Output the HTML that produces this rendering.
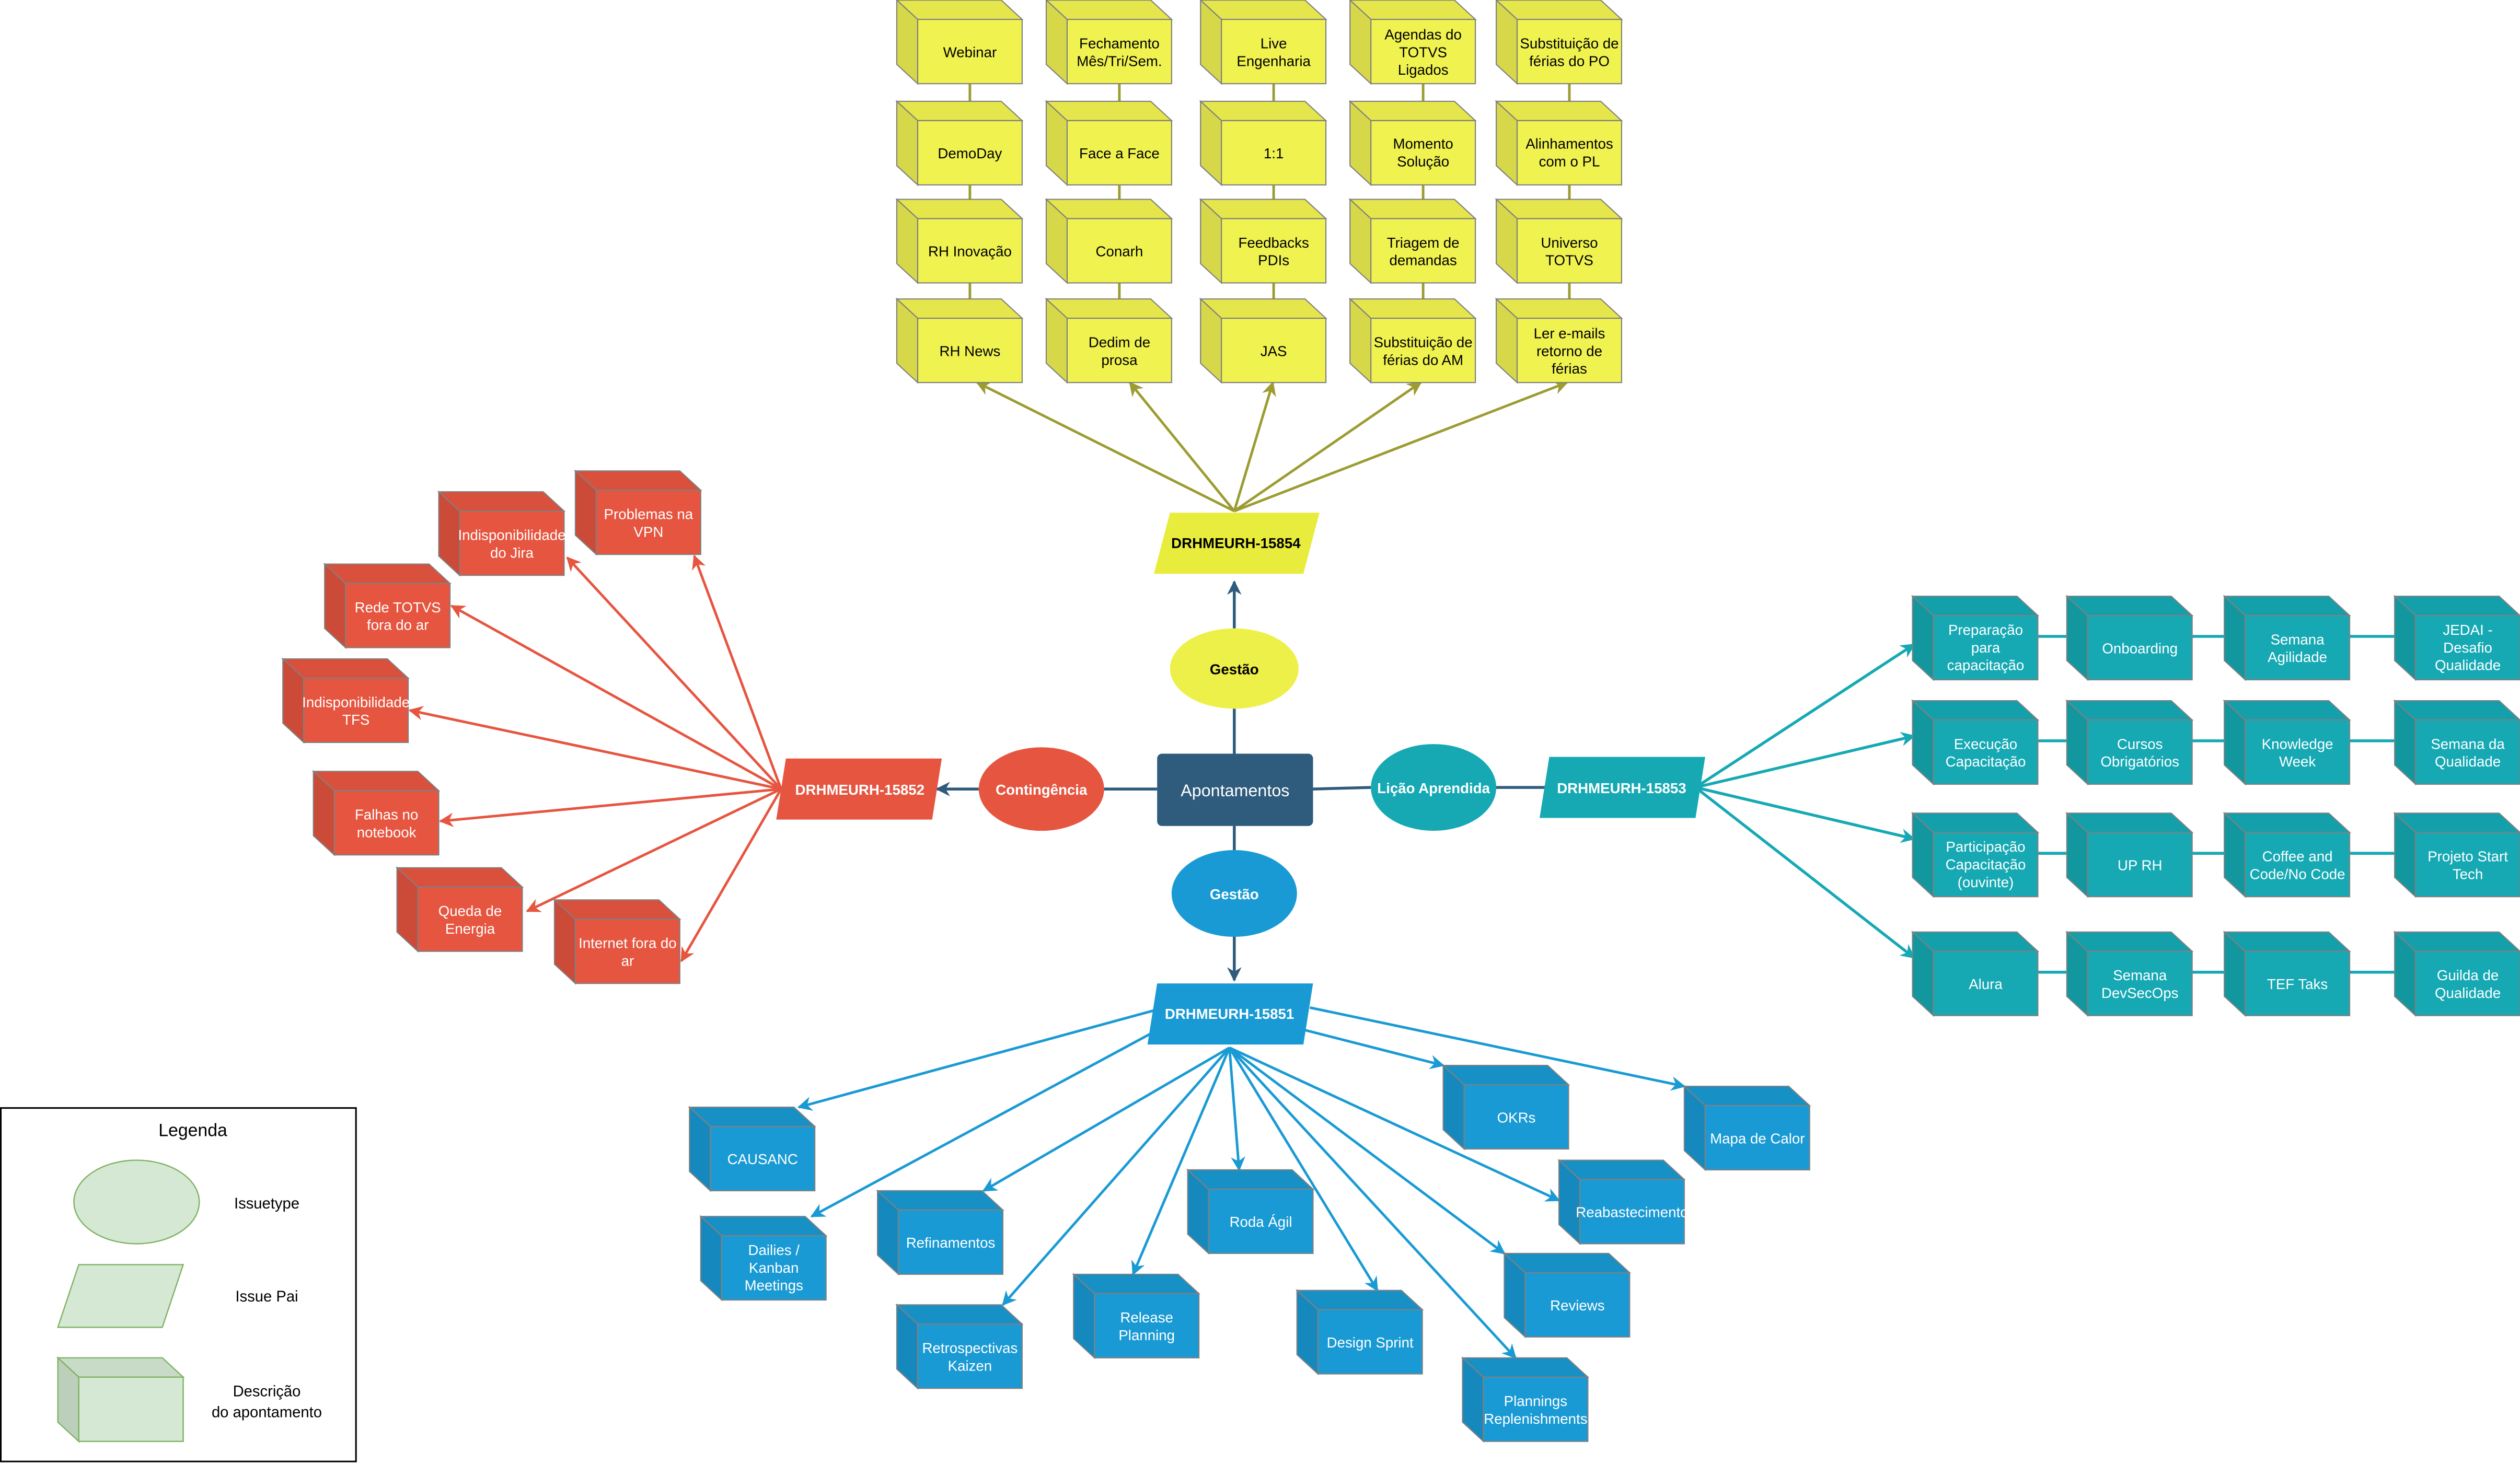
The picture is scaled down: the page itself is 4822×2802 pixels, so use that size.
<!DOCTYPE html>
<html><head><meta charset="utf-8"><style>
html,body{margin:0;padding:0;background:#fff;}
svg{display:block;}
text{font-family:"Liberation Sans",Arial,sans-serif;}
</style></head><body>
<svg width="4822" height="2802" viewBox="0 0 1568 911" xmlns="http://www.w3.org/2000/svg">
<defs>
<g id="cy" stroke="#808080" stroke-width="0.7"><polygon points="0,0 65,0 78,12 13,12" fill="#e5e64c"/><polygon points="0,0 13,12 13,52 0,40" fill="#d6d84a"/><rect x="13" y="12" width="65" height="40" fill="#f0f250"/></g>
<g id="cr" stroke="#808080" stroke-width="0.7"><polygon points="0,0 65,0 78,12 13,12" fill="#d9503c"/><polygon points="0,0 13,12 13,52 0,40" fill="#cc4a38"/><rect x="13" y="12" width="65" height="40" fill="#e65540"/></g>
<g id="ct" stroke="#808080" stroke-width="0.7"><polygon points="0,0 65,0 78,12 13,12" fill="#13a0aa"/><polygon points="0,0 13,12 13,52 0,40" fill="#12979f"/><rect x="13" y="12" width="65" height="40" fill="#16a9b4"/></g>
<g id="cb" stroke="#808080" stroke-width="0.7"><polygon points="0,0 65,0 78,12 13,12" fill="#1790c6"/><polygon points="0,0 13,12 13,52 0,40" fill="#1589bd"/><rect x="13" y="12" width="65" height="40" fill="#1a9ad4"/></g>
<marker id="ay" viewBox="0 0 10 10" refX="9" refY="5" markerWidth="9" markerHeight="9" markerUnits="userSpaceOnUse" orient="auto"><path d="M0,0 L10,5 L0,10 L3,5 Z" fill="#9c9c32"/></marker>
<marker id="ar" viewBox="0 0 10 10" refX="9" refY="5" markerWidth="9" markerHeight="9" markerUnits="userSpaceOnUse" orient="auto"><path d="M0,0 L10,5 L0,10 L3,5 Z" fill="#e65540"/></marker>
<marker id="at" viewBox="0 0 10 10" refX="9" refY="5" markerWidth="9" markerHeight="9" markerUnits="userSpaceOnUse" orient="auto"><path d="M0,0 L10,5 L0,10 L3,5 Z" fill="#16a9b4"/></marker>
<marker id="ab" viewBox="0 0 10 10" refX="9" refY="5" markerWidth="9" markerHeight="9" markerUnits="userSpaceOnUse" orient="auto"><path d="M0,0 L10,5 L0,10 L3,5 Z" fill="#1a9ad4"/></marker>
<marker id="ad" viewBox="0 0 10 10" refX="9" refY="5" markerWidth="9" markerHeight="9" markerUnits="userSpaceOnUse" orient="auto"><path d="M0,0 L10,5 L0,10 L3,5 Z" fill="#2f5b7c"/></marker>
</defs>

<!-- yellow vertical connectors -->
<g stroke="#9c9c32" stroke-width="1.6">
<line x1="603.5" y1="40" x2="603.5" y2="200"/><line x1="696.5" y1="40" x2="696.5" y2="200"/><line x1="792.5" y1="40" x2="792.5" y2="200"/><line x1="885.5" y1="40" x2="885.5" y2="200"/><line x1="976.5" y1="40" x2="976.5" y2="200"/>
</g>
<!-- teal horizontal connectors -->
<g stroke="#16a9b4" stroke-width="1.8">
<line x1="1220" y1="396" x2="1530" y2="396"/><line x1="1220" y1="461" x2="1530" y2="461"/><line x1="1220" y1="531" x2="1530" y2="531"/><line x1="1220" y1="605" x2="1530" y2="605"/>
</g>

<!-- center lines -->
<g stroke="#2f5b7c" stroke-width="1.8" fill="none">
<line x1="768" y1="469" x2="768" y2="441"/>
<line x1="768" y1="391" x2="768" y2="362" marker-end="url(#ad)"/>
<line x1="720" y1="491" x2="687" y2="491"/>
<line x1="609" y1="491" x2="583" y2="491" marker-end="url(#ad)"/>
<line x1="817" y1="491" x2="853" y2="490"/>
<line x1="931" y1="490" x2="963" y2="490"/>
<line x1="768" y1="514" x2="768" y2="530"/>
<line x1="768" y1="582" x2="768" y2="610" marker-end="url(#ad)"/>
</g>

<!-- yellow arrows -->
<g stroke="#9c9c32" stroke-width="1.6" fill="none">
<line x1="768" y1="318" x2="608" y2="238" marker-end="url(#ay)"/>
<line x1="768" y1="318" x2="703" y2="238" marker-end="url(#ay)"/>
<line x1="768" y1="318" x2="792" y2="238" marker-end="url(#ay)"/>
<line x1="768" y1="318" x2="884" y2="238" marker-end="url(#ay)"/>
<line x1="768" y1="318" x2="975" y2="238" marker-end="url(#ay)"/>
</g>
<!-- red arrows -->
<g stroke="#e65540" stroke-width="1.6" fill="none">
<line x1="486" y1="491" x2="432" y2="346" marker-end="url(#ar)"/>
<line x1="486" y1="491" x2="353" y2="347" marker-end="url(#ar)"/>
<line x1="486" y1="491" x2="281" y2="377" marker-end="url(#ar)"/>
<line x1="486" y1="491" x2="255" y2="442" marker-end="url(#ar)"/>
<line x1="486" y1="491" x2="274" y2="511" marker-end="url(#ar)"/>
<line x1="486" y1="491" x2="328" y2="567" marker-end="url(#ar)"/>
<line x1="486" y1="491" x2="424" y2="598" marker-end="url(#ar)"/>
</g>
<!-- teal arrows -->
<g stroke="#16a9b4" stroke-width="1.8" fill="none">
<line x1="1055" y1="490" x2="1191" y2="401" marker-end="url(#at)"/>
<line x1="1055" y1="490" x2="1191" y2="458" marker-end="url(#at)"/>
<line x1="1055" y1="490" x2="1191" y2="522" marker-end="url(#at)"/>
<line x1="1055" y1="490" x2="1191" y2="596" marker-end="url(#at)"/>
</g>
<!-- blue arrows -->
<g stroke="#1a9ad4" stroke-width="1.6" fill="none">
<line x1="721" y1="628" x2="497" y2="689" marker-end="url(#ab)"/>
<line x1="722" y1="640" x2="505" y2="757" marker-end="url(#ab)"/>
<line x1="765" y1="652" x2="612" y2="741" marker-end="url(#ab)"/>
<line x1="765" y1="652" x2="624" y2="812" marker-end="url(#ab)"/>
<line x1="765" y1="652" x2="705" y2="793" marker-end="url(#ab)"/>
<line x1="765" y1="652" x2="771" y2="728" marker-end="url(#ab)"/>
<line x1="765" y1="652" x2="857" y2="803" marker-end="url(#ab)"/>
<line x1="765" y1="652" x2="943" y2="845" marker-end="url(#ab)"/>
<line x1="765" y1="652" x2="936" y2="780" marker-end="url(#ab)"/>
<line x1="765" y1="652" x2="970" y2="747" marker-end="url(#ab)"/>
<line x1="808" y1="640" x2="898" y2="663" marker-end="url(#ab)"/>
<line x1="815" y1="627" x2="1048" y2="676" marker-end="url(#ab)"/>
</g>

<!-- center nodes -->
<rect x="720" y="469" width="97" height="45" rx="3" fill="#2f5b7c"/>
<text x="768.5" y="495.5" font-size="10.5" fill="#fff" text-anchor="middle">Apontamentos</text>
<ellipse cx="768" cy="416" rx="40" ry="25" fill="#eef04a"/>
<text x="768" y="419.5" font-size="9" font-weight="bold" fill="#000" text-anchor="middle">Gestão</text>
<polygon points="728,319 821,319 811,357 718,357" fill="#e8ec3c"/>
<text x="769" y="341" font-size="9" font-weight="bold" fill="#000" text-anchor="middle">DRHMEURH-15854</text>
<ellipse cx="648" cy="491" rx="39" ry="26" fill="#e65540"/>
<text x="648" y="494.5" font-size="9" font-weight="bold" fill="#fff" text-anchor="middle">Contingência</text>
<polygon points="489,472 586,472 580,510 483,510" fill="#e65540"/>
<text x="535" y="494.5" font-size="9" font-weight="bold" fill="#fff" text-anchor="middle">DRHMEURH-15852</text>
<ellipse cx="892" cy="490" rx="39" ry="27" fill="#16a9b4"/>
<text x="892" y="493.5" font-size="9" font-weight="bold" fill="#fff" text-anchor="middle">Lição Aprendida</text>
<polygon points="964,471 1061,471 1055,509 958,509" fill="#16a9b4"/>
<text x="1009" y="493.5" font-size="9" font-weight="bold" fill="#fff" text-anchor="middle">DRHMEURH-15853</text>
<ellipse cx="768" cy="556" rx="39" ry="27" fill="#1a9ad4"/>
<text x="768" y="559.5" font-size="9" font-weight="bold" fill="#fff" text-anchor="middle">Gestão</text>
<polygon points="720,612 817,612 811,650 714,650" fill="#1a9ad4"/>
<text x="765" y="634" font-size="9" font-weight="bold" fill="#fff" text-anchor="middle">DRHMEURH-15851</text>

<!-- yellow cubes -->
<use href="#cy" x="558" y="0"/><use href="#cy" x="558" y="63"/><use href="#cy" x="558" y="124"/><use href="#cy" x="558" y="186"/>
<use href="#cy" x="651" y="0"/><use href="#cy" x="651" y="63"/><use href="#cy" x="651" y="124"/><use href="#cy" x="651" y="186"/>
<use href="#cy" x="747" y="0"/><use href="#cy" x="747" y="63"/><use href="#cy" x="747" y="124"/><use href="#cy" x="747" y="186"/>
<use href="#cy" x="840" y="0"/><use href="#cy" x="840" y="63"/><use href="#cy" x="840" y="124"/><use href="#cy" x="840" y="186"/>
<use href="#cy" x="931" y="0"/><use href="#cy" x="931" y="63"/><use href="#cy" x="931" y="124"/><use href="#cy" x="931" y="186"/>
<g font-size="9" fill="#000" text-anchor="middle">
<text x="603.5" y="35.5">Webinar</text>
<text x="603.5" y="98.5">DemoDay</text>
<text x="603.5" y="159.5">RH Inovação</text>
<text x="603.5" y="221.5">RH News</text>
<text x="696.5" y="30">Fechamento</text><text x="696.5" y="41">Mês/Tri/Sem.</text>
<text x="696.5" y="98.5">Face a Face</text>
<text x="696.5" y="159.5">Conarh</text>
<text x="696.5" y="216">Dedim de</text><text x="696.5" y="227">prosa</text>
<text x="792.5" y="30">Live</text><text x="792.5" y="41">Engenharia</text>
<text x="792.5" y="98.5">1:1</text>
<text x="792.5" y="154">Feedbacks</text><text x="792.5" y="165">PDIs</text>
<text x="792.5" y="221.5">JAS</text>
<text x="885.5" y="24.5">Agendas do</text><text x="885.5" y="35.5">TOTVS</text><text x="885.5" y="46.5">Ligados</text>
<text x="885.5" y="92.5">Momento</text><text x="885.5" y="103.5">Solução</text>
<text x="885.5" y="154">Triagem de</text><text x="885.5" y="165">demandas</text>
<text x="885.5" y="216">Substituição de</text><text x="885.5" y="227">férias do AM</text>
<text x="976.5" y="30">Substituição de</text><text x="976.5" y="41">férias do PO</text>
<text x="976.5" y="92.5">Alinhamentos</text><text x="976.5" y="103.5">com o PL</text>
<text x="976.5" y="154">Universo</text><text x="976.5" y="165">TOTVS</text>
<text x="976.5" y="210.5">Ler e-mails</text><text x="976.5" y="221.5">retorno de</text><text x="976.5" y="232.5">férias</text>
</g>

<!-- red cubes -->
<use href="#cr" x="358" y="293"/><use href="#cr" x="273" y="306"/><use href="#cr" x="202" y="351"/><use href="#cr" x="176" y="410"/><use href="#cr" x="195" y="480"/><use href="#cr" x="247" y="540"/><use href="#cr" x="345" y="560"/>
<g font-size="9" fill="#fff" text-anchor="middle">
<text x="403.5" y="323">Problemas na</text><text x="403.5" y="334">VPN</text>
<text x="318.5" y="336">Indisponibilidade</text><text x="318.5" y="347">do Jira</text>
<text x="247.5" y="381">Rede TOTVS</text><text x="247.5" y="392">fora do ar</text>
<text x="221.5" y="440">Indisponibilidade</text><text x="221.5" y="451">TFS</text>
<text x="240.5" y="510">Falhas no</text><text x="240.5" y="521">notebook</text>
<text x="292.5" y="570">Queda de</text><text x="292.5" y="581">Energia</text>
<text x="390.5" y="590">Internet fora do</text><text x="390.5" y="601">ar</text>
</g>

<!-- teal cubes -->
<use href="#ct" x="1190" y="371"/><use href="#ct" x="1286" y="371"/><use href="#ct" x="1384" y="371"/><use href="#ct" x="1490" y="371"/>
<use href="#ct" x="1190" y="436"/><use href="#ct" x="1286" y="436"/><use href="#ct" x="1384" y="436"/><use href="#ct" x="1490" y="436"/>
<use href="#ct" x="1190" y="506"/><use href="#ct" x="1286" y="506"/><use href="#ct" x="1384" y="506"/><use href="#ct" x="1490" y="506"/>
<use href="#ct" x="1190" y="580"/><use href="#ct" x="1286" y="580"/><use href="#ct" x="1384" y="580"/><use href="#ct" x="1490" y="580"/>
<g font-size="9" fill="#fff" text-anchor="middle">
<text x="1235.5" y="395">Preparação</text><text x="1235.5" y="406">para</text><text x="1235.5" y="417">capacitação</text>
<text x="1331.5" y="406.5">Onboarding</text>
<text x="1429.5" y="401">Semana</text><text x="1429.5" y="412">Agilidade</text>
<text x="1535.5" y="395">JEDAI -</text><text x="1535.5" y="406">Desafio</text><text x="1535.5" y="417">Qualidade</text>
<text x="1235.5" y="466">Execução</text><text x="1235.5" y="477">Capacitação</text>
<text x="1331.5" y="466">Cursos</text><text x="1331.5" y="477">Obrigatórios</text>
<text x="1429.5" y="466">Knowledge</text><text x="1429.5" y="477">Week</text>
<text x="1535.5" y="466">Semana da</text><text x="1535.5" y="477">Qualidade</text>
<text x="1235.5" y="530">Participação</text><text x="1235.5" y="541">Capacitação</text><text x="1235.5" y="552">(ouvinte)</text>
<text x="1331.5" y="541.5">UP RH</text>
<text x="1429.5" y="536">Coffee and</text><text x="1429.5" y="547">Code/No Code</text>
<text x="1535.5" y="536">Projeto Start</text><text x="1535.5" y="547">Tech</text>
<text x="1235.5" y="615.5">Alura</text>
<text x="1331.5" y="610">Semana</text><text x="1331.5" y="621">DevSecOps</text>
<text x="1429.5" y="615.5">TEF Taks</text>
<text x="1535.5" y="610">Guilda de</text><text x="1535.5" y="621">Qualidade</text>
</g>

<!-- blue cubes -->
<use href="#cb" x="429" y="689"/><use href="#cb" x="436" y="757"/><use href="#cb" x="546" y="741"/><use href="#cb" x="558" y="812"/><use href="#cb" x="668" y="793"/><use href="#cb" x="739" y="728"/><use href="#cb" x="807" y="803"/><use href="#cb" x="910" y="845"/><use href="#cb" x="936" y="780"/><use href="#cb" x="970" y="722"/><use href="#cb" x="898" y="663"/><use href="#cb" x="1048" y="676"/>
<g font-size="9" fill="#fff" text-anchor="middle">
<text x="474.5" y="724.5">CAUSANC</text>
<text x="481.5" y="781">Dailies /</text><text x="481.5" y="792">Kanban</text><text x="481.5" y="803">Meetings</text>
<text x="591.5" y="776.5">Refinamentos</text>
<text x="603.5" y="842">Retrospectivas</text><text x="603.5" y="853">Kaizen</text>
<text x="713.5" y="823">Release</text><text x="713.5" y="834">Planning</text>
<text x="784.5" y="763.5">Roda Ágil</text>
<text x="852.5" y="838.5">Design Sprint</text>
<text x="955.5" y="875">Plannings</text><text x="955.5" y="886">Replenishments</text>
<text x="981.5" y="815.5">Reviews</text>
<text x="1015.5" y="757.5">Reabastecimento</text>
<text x="943.5" y="698.5">OKRs</text>
<text x="1093.5" y="711.5">Mapa de Calor</text>
</g>

<!-- legend -->
<rect x="0.5" y="689.5" width="221" height="220" fill="#fff" stroke="#000" stroke-width="1"/>
<text x="120" y="707" font-size="11" fill="#000" text-anchor="middle">Legenda</text>
<ellipse cx="85" cy="748" rx="39" ry="26" fill="#d5e8d4" stroke="#82b366" stroke-width="0.8"/>
<text x="166" y="752" font-size="9.5" fill="#000" text-anchor="middle">Issuetype</text>
<polygon points="49,787 114,787 101,826 36,826" fill="#d5e8d4" stroke="#82b366" stroke-width="0.8"/>
<text x="166" y="810" font-size="9.5" fill="#000" text-anchor="middle">Issue Pai</text>
<g stroke="#82b366" stroke-width="0.8" transform="translate(36,845)"><polygon points="0,0 65,0 78,12 13,12" fill="#c8dbc7"/><polygon points="0,0 13,12 13,52 0,40" fill="#bccfbb"/><rect x="13" y="12" width="65" height="40" fill="#d5e8d4"/></g>
<text x="166" y="869" font-size="9.5" fill="#000" text-anchor="middle">Descrição</text>
<text x="166" y="882" font-size="9.5" fill="#000" text-anchor="middle">do apontamento</text>
</svg>
</body></html>
